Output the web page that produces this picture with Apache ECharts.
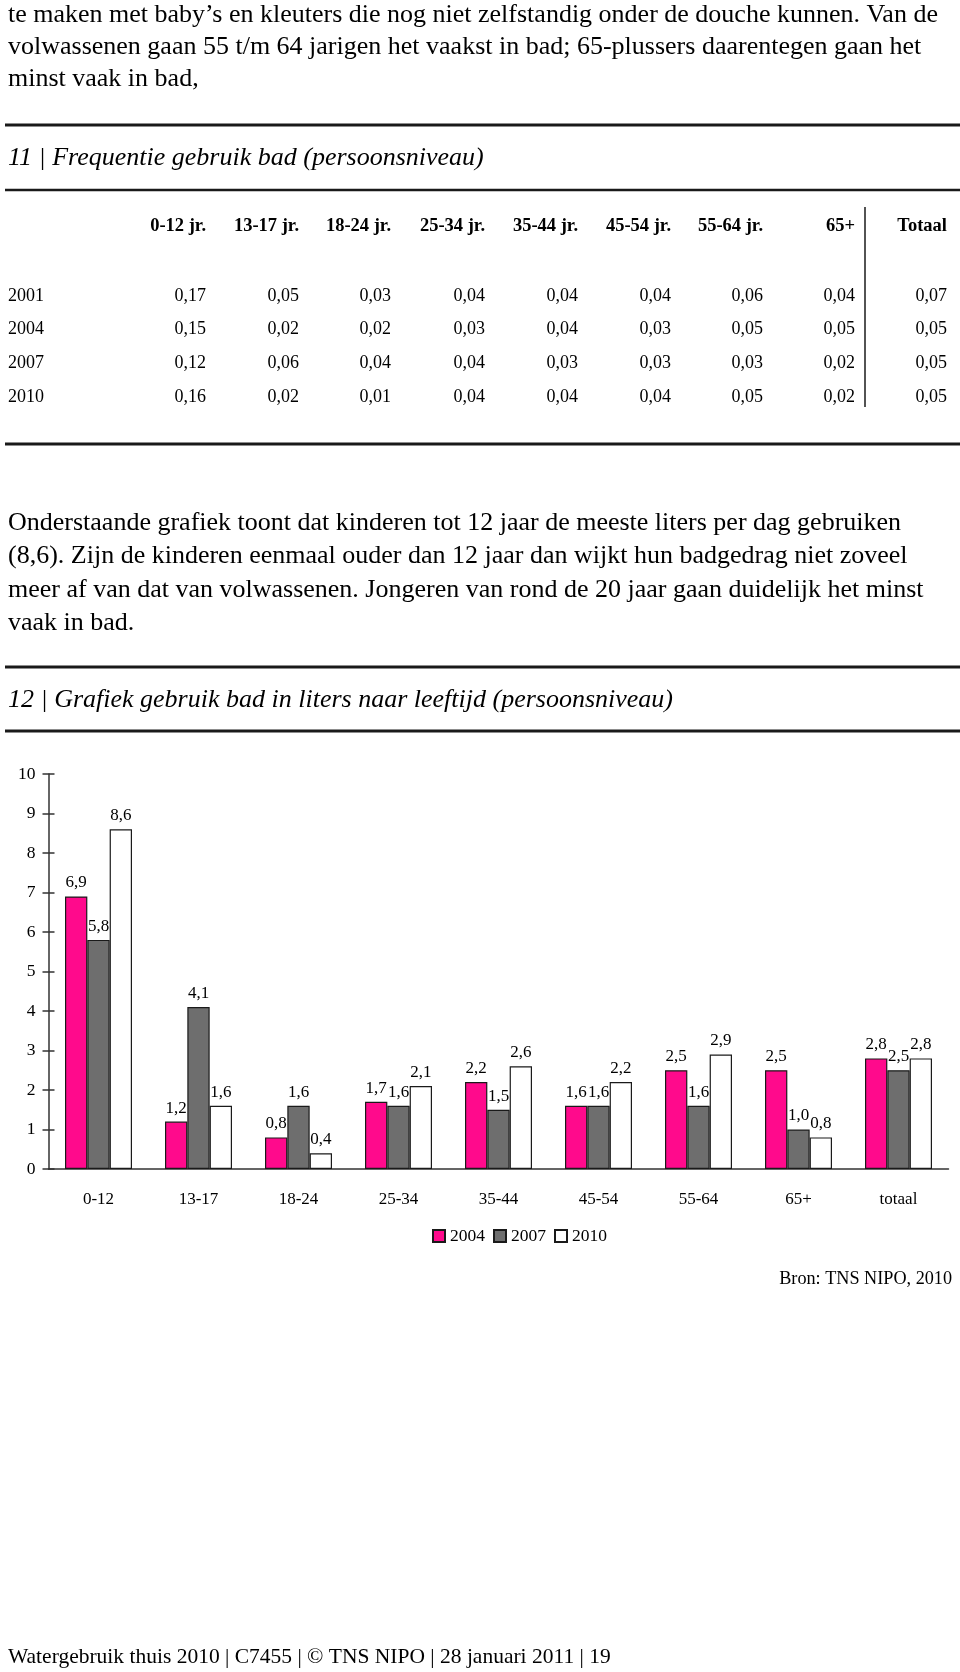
<!DOCTYPE html>
<html><head><meta charset="utf-8">
<script src="https://cdn.jsdelivr.net/npm/echarts@6/dist/echarts.min.js"></script>
<style>html,body{margin:0;padding:0;background:#fff}#c{width:960px;height:1672px}</style>
</head><body><div id="c"></div>
<script>
// ---------- data ----------
const categories = ['0-12','13-17','18-24','25-34','35-44','45-54','55-64','65+','totaal'];
const seriesNames = ['2004','2007','2010'];
const values2004 = [6.9,1.2,0.8,1.7,2.2,1.6,2.5,2.5,2.8];
const values2007 = [5.8,4.1,1.6,1.6,1.5,1.6,1.6,1.0,2.5];
const values2010 = [8.6,1.6,0.4,2.1,2.6,2.2,2.9,0.8,2.8];
const yMin = 0, yMax = 10, yInterval = 1;

const tableColumns = ['0-12 jr.','13-17 jr.','18-24 jr.','25-34 jr.','35-44 jr.','45-54 jr.','55-64 jr.','65+','Totaal'];
const tableYears = ['2001','2004','2007','2010'];
const freq2001 = [0.17,0.05,0.03,0.04,0.04,0.04,0.06,0.04,0.07];
const freq2004 = [0.15,0.02,0.02,0.03,0.04,0.03,0.05,0.05,0.05];
const freq2007 = [0.12,0.06,0.04,0.04,0.03,0.03,0.03,0.02,0.05];
const freq2010 = [0.16,0.02,0.01,0.04,0.04,0.04,0.05,0.02,0.05];

const para1 = [
  'te maken met baby\u2019s en kleuters die nog niet zelfstandig onder de douche kunnen. Van de',
  'volwassenen gaan 55 t/m 64 jarigen het vaakst in bad; 65-plussers daarentegen gaan het',
  'minst vaak in bad,'
];
const title11 = '11 | Frequentie gebruik bad (persoonsniveau)';
const para2 = [
  'Onderstaande grafiek toont dat kinderen tot 12 jaar de meeste liters per dag gebruiken',
  '(8,6). Zijn de kinderen eenmaal ouder dan 12 jaar dan wijkt hun badgedrag niet zoveel',
  'meer af van dat van volwassenen. Jongeren van rond de 20 jaar gaan duidelijk het minst',
  'vaak in bad.'
];
const title12 = '12 | Grafiek gebruik bad in liters naar leeftijd (persoonsniveau)';
const sourceText = 'Bron: TNS NIPO, 2010';
const footerText = 'Watergebruik thuis 2010 | C7455 | \u00A9 TNS NIPO | 28 januari 2011 | 19';

// ---------- layout ----------
const SERIF = "'Liberation Serif', 'Times New Roman', serif";
const fmt1 = v => v.toFixed(1).replace('.', ',');
const fmt2 = v => v.toFixed(2).replace('.', ',');
const g = [];
function txt(x, y, text, size, opts) {
  opts = opts || {};
  g.push({type:'text', x:x, y:y, silent:true, style:{
    text:text, fill:'#000',
    font:(opts.italic?'italic ':'') + (opts.bold?'bold ':'') + size + 'px ' + SERIF,
    textAlign:opts.align||'left', textVerticalAlign:'middle'}});
}
function rule(y, w) {
  g.push({type:'line', silent:true, shape:{x1:5, y1:y, x2:960, y2:y}, style:{stroke:'#1a1a1a', lineWidth:w||3}});
}
para1.forEach((l,i)=>txt(8, 15 + i*32, l, 26));
rule(125);
txt(8, 158, title11, 26, {italic:true});
rule(190, 2.5);
const colRight = [206, 299, 391, 485, 578, 671, 763, 855, 947];
tableColumns.forEach((c,i)=>txt(colRight[i], 226, c, 18.5, {bold:true, align:'right'}));
const rows = [freq2001, freq2004, freq2007, freq2010];
const rowY = [296, 329.5, 363.5, 397.5];
tableYears.forEach((yr,r)=>{
  txt(8, rowY[r], yr, 18);
  rows[r].forEach((v,i)=>txt(colRight[i], rowY[r], fmt2(v), 18, {align:'right'}));
});
g.push({type:'line', silent:true, shape:{x1:865, y1:207, x2:865, y2:407}, style:{stroke:'#1a1a1a', lineWidth:1.5}});
rule(444);
para2.forEach((l,i)=>txt(8, 523 + i*33.5, l, 26));
rule(667);
txt(8, 700, title12, 26, {italic:true});
rule(731);
txt(952, 1279, sourceText, 18.2, {align:'right'});
txt(8, 1657, footerText, 21.5);

const colors = ['#FF0A8C', '#6E6E6E', '#FFFFFF'];
const seriesData = [values2004, values2007, values2010];
const labelStyle = {show:true, position:'top', distance:5, formatter:p=>fmt1(p.value),
  fontFamily:SERIF, fontSize:17, color:'#000'};

const chart = echarts.init(document.getElementById('c'), null, {renderer:'canvas'});
chart.setOption({
  animation:false,
  backgroundColor:'#fff',
  grid:{left:48.5, right:11.5, top:774, bottom:503, containLabel:false},
  legend:{data:seriesNames, left:427, top:1222, icon:'rect', itemWidth:12, itemHeight:12, itemGap:8,
    textStyle:{fontFamily:SERIF, fontSize:17.5, color:'#000'}},
  xAxis:[
    {type:'category', data:categories, axisLine:{lineStyle:{color:'#333', width:1.5}},
     axisTick:{show:false}, axisLabel:{margin:22, fontFamily:SERIF, fontSize:17, color:'#000'}},
    {type:'value', min:0, max:categories.length, show:false}
  ],
  yAxis:[
    {type:'value', min:yMin, max:yMax, interval:yInterval, splitLine:{show:false},
     axisLine:{show:true, lineStyle:{color:'#333', width:1.5}},
     axisTick:{show:true, length:6, lineStyle:{color:'#333', width:1.5}},
     axisLabel:{margin:13, fontFamily:SERIF, fontSize:17.5, color:'#000'}},
    {type:'value', min:yMin, max:yMax, interval:yInterval, position:'left', splitLine:{show:false},
     axisLine:{show:false}, axisLabel:{show:false},
     axisTick:{show:true, inside:true, length:6, lineStyle:{color:'#333', width:1.5}}}
  ],
  series: seriesNames.map((n,i)=>({
    name:n, type:'bar', data:seriesData[i], barGap:'0%', barCategoryGap:'33%',
    itemStyle:{color:colors[i], borderColor:'#1a1a1a', borderWidth:1.2},
    label:labelStyle
  })).concat([{
    name:'sep', type:'line', xAxisIndex:1, data:[[categories.length-1, 0]], showSymbol:false, clip:false,
    lineStyle:{opacity:0}, silent:true,
    markLine:{symbol:'none', silent:true, label:{show:false},
      lineStyle:{type:[8,4], width:3, color:'#111'},
      data:[[{coord:[categories.length-1, -0.1]}, {coord:[categories.length-1, 9.77]}]]}
  }]),
  graphic:{elements:g}
});
</script></body></html>
